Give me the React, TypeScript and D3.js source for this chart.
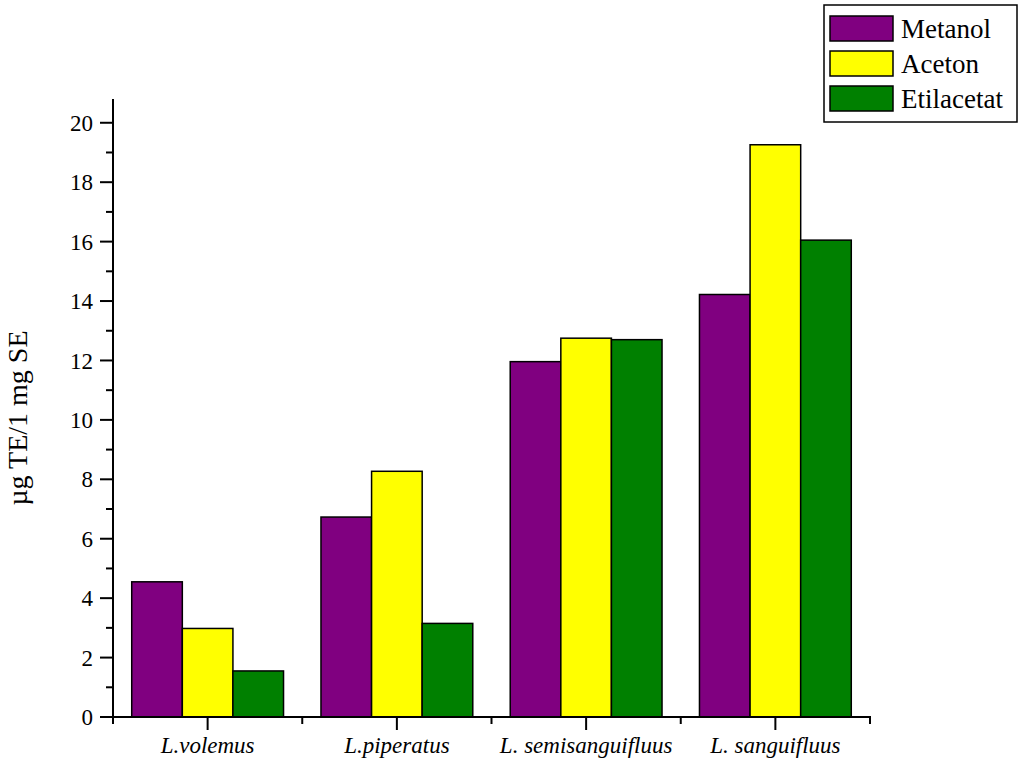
import React, { useEffect, useRef } from "react";
import * as d3 from "d3";

const categories = ["L.volemus", "L.piperatus", "L. semisanguifluus", "L. sanguifluus"];
const seriesNames = ["Metanol", "Aceton", "Etilacetat"];
const seriesColors = ["#800080", "#FFFF00", "#008000"];
const metanol = [4.55, 6.73, 11.96, 14.22];
const aceton = [2.98, 8.27, 12.75, 19.26];
const etilacetat = [1.55, 3.15, 12.7, 16.05];
const yMajorTicks = [0, 2, 4, 6, 8, 10, 12, 14, 16, 18, 20];
const yMinorTicks = [1, 3, 5, 7, 9, 11, 13, 15, 17, 19];
const yTitle = "µg TE/1 mg SE";

const W = 1024, H = 765;
const left = 113, right = 870, top = 99, bottom = 717;
const FONT = "'Liberation Serif', 'Times New Roman', serif";

export default function App() {
  const ref = useRef<SVGSVGElement>(null);
  useEffect(() => {
    const svg = d3.select(ref.current);
    svg.selectAll("*").remove();
    const values = [metanol, aceton, etilacetat];
    const x = d3.scaleBand<string>().domain(categories).range([left, right]).paddingInner(0).paddingOuter(0);
    const x1 = d3.scaleBand<string>().domain(seriesNames).range([0, x.bandwidth()]).paddingOuter(0.37).paddingInner(0);
    const y = d3.scaleLinear().domain([0, 20.8]).range([bottom, top]);

    // bars
    const g = svg.append("g");
    categories.forEach((c, ci) => {
      seriesNames.forEach((s, si) => {
        const v = values[si][ci];
        g.append("rect")
          .attr("x", (x(c) as number) + (x1(s) as number))
          .attr("y", y(v))
          .attr("width", x1.bandwidth())
          .attr("height", y(0) - y(v))
          .attr("fill", seriesColors[si])
          .attr("stroke", "#000")
          .attr("stroke-width", 1.5);
      });
    });

    // y axis
    const ya = svg.append("g").attr("stroke", "#000").attr("stroke-width", 2);
    ya.append("line").attr("x1", left).attr("x2", left).attr("y1", y(20.8)).attr("y2", bottom + 1);
    yMajorTicks.forEach((t) => {
      ya.append("line").attr("x1", left - 13).attr("x2", left).attr("y1", y(t)).attr("y2", y(t));
    });
    yMinorTicks.forEach((t) => {
      ya.append("line").attr("x1", left - 7).attr("x2", left).attr("y1", y(t)).attr("y2", y(t));
    });
    svg.append("g").selectAll("text").data(yMajorTicks).join("text")
      .attr("x", left - 20).attr("y", (d) => y(d)).attr("dy", "0.35em")
      .attr("text-anchor", "end").attr("font-family", FONT).attr("font-size", 23)
      .text((d) => String(d));

    // x axis
    const xa = svg.append("g").attr("stroke", "#000").attr("stroke-width", 2);
    xa.append("line").attr("x1", left - 1).attr("x2", right + 1).attr("y1", bottom).attr("y2", bottom);
    categories.forEach((c) => {
      const cx = (x(c) as number) + x.bandwidth() / 2;
      xa.append("line").attr("x1", cx).attr("x2", cx).attr("y1", bottom).attr("y2", bottom + 13);
    });
    [...categories.map((c) => x(c) as number), right].forEach((bx) => {
      xa.append("line").attr("x1", bx).attr("x2", bx).attr("y1", bottom).attr("y2", bottom + 7);
    });
    svg.append("g").selectAll("text").data(categories).join("text")
      .attr("x", (d) => (x(d) as number) + x.bandwidth() / 2).attr("y", 753)
      .attr("text-anchor", "middle").attr("font-family", FONT).attr("font-size", 23)
      .attr("font-style", "italic").text((d) => d);

    // y title
    svg.append("text")
      .attr("transform", `translate(27,418) rotate(-90)`)
      .attr("text-anchor", "middle").attr("font-family", FONT).attr("font-size", 28)
      .text(yTitle);

    // legend
    const lg = svg.append("g");
    lg.append("rect").attr("x", 824).attr("y", 5).attr("width", 193).attr("height", 117)
      .attr("fill", "#fff").attr("stroke", "#000").attr("stroke-width", 1.5);
    seriesNames.forEach((s, i) => {
      lg.append("rect").attr("x", 830).attr("y", 16 + i * 35).attr("width", 63).attr("height", 25)
        .attr("fill", seriesColors[i]).attr("stroke", "#000").attr("stroke-width", 1.5);
      lg.append("text").attr("x", 901).attr("y", 38 + i * 35)
        .attr("font-family", FONT).attr("font-size", 27).text(s);
    });
  }, []);
  return (
    <svg ref={ref} width={W} height={H} style={{ position: "absolute", left: 0, top: 0, background: "#fff" }} />
  );
}
